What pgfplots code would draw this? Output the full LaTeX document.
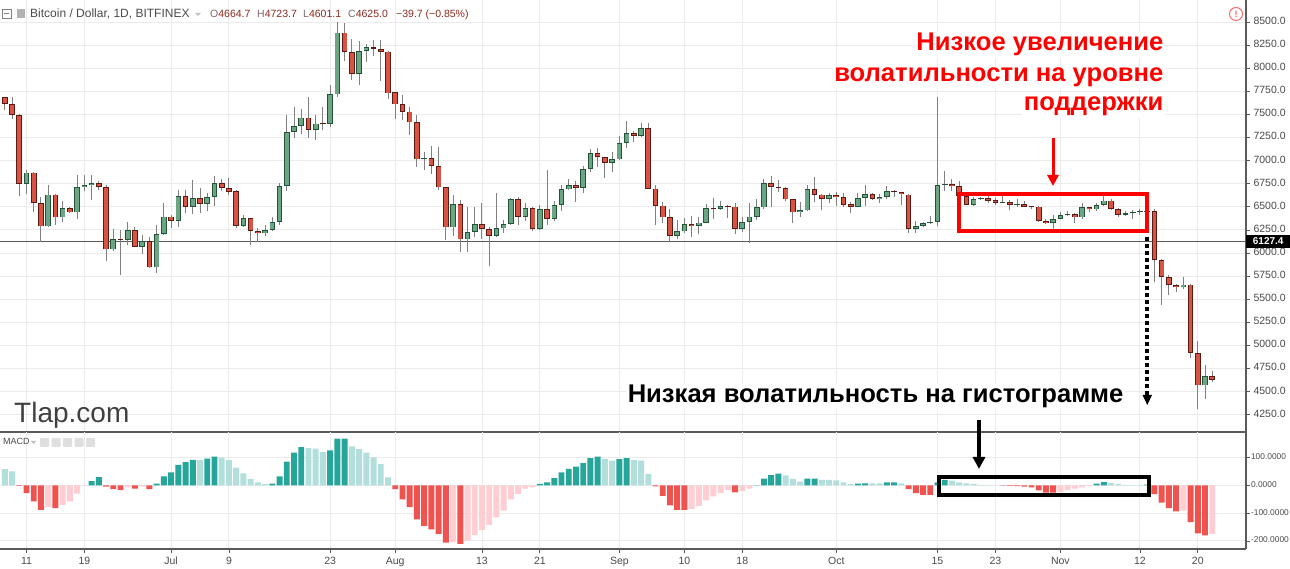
\documentclass[border=0pt]{standalone}
\usepackage{fontspec}
\setmainfont{Liberation Sans}
\usepackage{pgfplots}
\usepackage{pgfplotstable}
\pgfplotsset{compat=1.18}
\usetikzlibrary{arrows.meta}
\definecolor{upfill}{HTML}{6BA583}
\definecolor{upedge}{HTML}{225437}
\definecolor{dnfill}{HTML}{D75442}
\definecolor{dnedge}{HTML}{5B1A13}
\definecolor{wickc}{HTML}{808080}
\definecolor{tealD}{HTML}{26A69A}
\definecolor{tealL}{HTML}{B2DFDB}
\definecolor{redD}{HTML}{EF5350}
\definecolor{redL}{HTML}{FFCDD2}
\definecolor{gridc}{HTML}{EBEBEB}
\definecolor{axisc}{HTML}{5A5A5A}
\definecolor{labc}{HTML}{4A4A4A}
\definecolor{ohlcv}{HTML}{8B2A1E}
\definecolor{ohlcl}{HTML}{7A6A6A}
\definecolor{annred}{HTML}{FF0000}

\pgfplotstableread{
d o h l c
0 6750 6899 6639 6870
3 6289 6740 6285 6632
5 6386 6559 6336 6487
7 6440 6848 6372 6711
8 6711 6841 6668 6733
9 6733 6841 6574 6761
12 6040 6257 6026 6155
14 6145 6336 6083 6249
16 6069 6192 5990 6127
18 5845 6300 5788 6206
19 6206 6545 6200 6394
21 6350 6682 6285 6617
23 6502 6790 6422 6596
25 6531 6646 6458 6603
26 6603 6834 6509 6758
30 6292 6412 6285 6375
33 6213 6303 6181 6246
34 6246 6390 6238 6339
35 6339 6754 6303 6729
36 6729 7494 6671 7313
37 7313 7584 7248 7375
38 7375 7559 7284 7465
40 7331 7494 7227 7400
42 7393 7818 7367 7717
43 7717 8504 7692 8385
46 7934 8294 7818 8186
47 8186 8266 8064 8229
55 7014 7093 6899 7025
59 6278 6624 6184 6531
61 6148 6502 6015 6231
62 6231 6502 6170 6314
65 6184 6646 6177 6267
66 6267 6357 6220 6314
67 6314 6592 6303 6585
69 6394 6545 6350 6484
71 6257 6520 6249 6477
73 6365 6567 6350 6523
74 6523 6733 6451 6689
75 6689 6798 6682 6733
77 6704 6942 6653 6906
78 6906 7122 6881 7079
81 6978 7097 6881 7014
82 7014 7266 7007 7194
83 7194 7432 7133 7295
85 7266 7411 7252 7349
90 6181 6357 6148 6235
91 6235 6375 6220 6314
93 6293 6394 6206 6329
94 6329 6531 6321 6484
96 6476 6567 6466 6505
99 6257 6386 6231 6336
100 6336 6545 6112 6394
101 6394 6588 6357 6494
102 6494 6798 6480 6761
107 6440 6552 6393 6462
108 6462 6736 6458 6689
111 6588 6653 6538 6624
115 6498 6646 6495 6596
116 6596 6740 6509 6635
118 6588 6639 6538 6610
119 6610 6729 6581 6671
123 6257 6350 6220 6293
124 6293 6339 6278 6321
125 6321 6401 6311 6336
126 6336 7685 6293 6736
127 6736 6891 6675 6750
131 6520 6603 6509 6581
132 6581 6610 6574 6596
135 6545 6624 6545 6556
137 6523 6588 6502 6534
142 6329 6415 6242 6372
143 6372 6444 6365 6408
144 6408 6451 6401 6423
146 6386 6538 6372 6495
148 6473 6538 6458 6523
149 6523 6624 6509 6567
152 6415 6458 6401 6430
153 6430 6466 6372 6444
154 6444 6473 6408 6446
155 6446 6480 6440 6458
160 5629 5744 5615 5658
163 4568 4785 4424 4664.7
}\upc

\pgfplotstableread{
d o h l c
-3 7685 7692 7548 7613
-2 7613 7685 7447 7497
-1 7497 7504 6617 6750
1 6870 6880 6448 6545
2 6545 6603 6119 6289
4 6632 6640 6307 6386
6 6487 6495 6430 6440
10 6761 6783 6682 6718
11 6718 6733 5910 6040
13 6152 6249 5759 6145
15 6249 6285 6062 6069
17 6127 6177 5838 5845
20 6394 6408 6271 6350
22 6617 6682 6430 6502
24 6596 6704 6430 6531
27 6758 6801 6671 6707
28 6707 6815 6628 6664
29 6671 6686 6267 6292
31 6375 6380 6087 6242
32 6242 6267 6123 6213
39 7465 7688 7241 7331
41 7400 7580 7331 7393
44 8385 8486 8078 8172
45 8172 8316 7872 7934
48 8229 8305 8128 8211
49 8211 8305 7865 8179
50 8179 8185 7667 7728
51 7739 7746 7450 7609
52 7609 7710 7440 7530
53 7530 7580 7277 7414
54 7414 7494 6935 7014
56 7025 7158 6855 6942
57 6942 7151 6682 6711
58 6718 6718 6141 6278
60 6531 6574 6015 6148
63 6314 6545 6148 6257
64 6257 6278 5860 6184
68 6585 6610 6303 6394
70 6484 6502 6242 6257
72 6477 6899 6303 6365
76 6733 6783 6556 6704
79 7079 7133 6927 7036
80 7036 7043 6808 6978
84 7295 7324 7205 7266
86 7349 7404 6689 6697
87 6697 6733 6303 6513
88 6513 6552 6329 6386
89 6386 6480 6123 6181
92 6314 6401 6177 6293
95 6491 6596 6365 6476
97 6509 6523 6375 6498
98 6502 6538 6206 6257
103 6761 6834 6502 6718
104 6718 6790 6664 6704
105 6704 6718 6559 6581
106 6581 6588 6329 6440
109 6689 6819 6552 6632
110 6632 6639 6466 6588
112 6624 6660 6509 6603
113 6603 6646 6502 6523
114 6531 6552 6430 6498
117 6635 6646 6574 6588
120 6671 6678 6603 6660
121 6657 6664 6520 6635
122 6632 6639 6220 6257
128 6750 6797 6675 6725
129 6729 6776 6610 6617
130 6617 6624 6516 6520
133 6596 6617 6538 6563
134 6574 6592 6520 6545
136 6552 6574 6466 6523
138 6531 6559 6495 6502
139 6502 6509 6480 6495
140 6502 6509 6336 6350
141 6350 6365 6314 6329
145 6423 6430 6329 6386
147 6495 6502 6444 6473
150 6567 6581 6466 6480
151 6480 6487 6394 6415
156 6458 6480 5687 5925
157 5925 5939 5441 5744
158 5744 5759 5542 5651
159 5651 5665 5578 5629
161 5658 5665 4861 4922
162 4922 5052 4309 4568
164 4664.7 4723.7 4601.1 4625.0
}\dnc

\pgfplotsset{
  panel/.style={
    scale only axis, width=1246pt,
    xmin=-3.665, xmax=168.67,
    axis x line*=bottom, axis y line*=right,
    axis line style={draw=axisc, line width=1.2pt},
    xtick={0,8,20,28,42,51,63,71,82,91,99,112,126,134,143,154,162},
    grid=major, major grid style={draw=gridc, line width=0.9pt},
    tick align=outside, major tick length=4pt,
    tick style={draw=axisc, line width=0.8pt},
    ytick pos=right, yticklabel pos=right,
    ticklabel style={font=\fontsize{10.5}{12}\selectfont, text=labc},
    typeset ticklabels with strut,
    clip mode=individual,
  },
  wick/.style={draw=none, mark=none, forget plot,
    error bars/.cd, y dir=plus, y explicit, error mark=none,
    error bar style={draw=wickc, line width=1pt, solid}},
  body/.style 2 args={draw=none, mark=none, forget plot,
    error bars/.cd, y dir=plus, y explicit, error mark=none,
    error bar style={draw=#1, line width=#2, solid}},
  hist/.style={ybar, bar width=0.82, bar shift=0pt, draw=none, fill=#1, forget plot},
}

\begin{document}
\begin{tikzpicture}[x=1pt,y=1pt]
\path[use as bounding box, fill=white] (0,0) rectangle (1290,569);

% ---------------- price panel ----------------
\begin{axis}[panel, at={(0pt,137pt)}, anchor=south west, height=432pt,
  ymin=4064, ymax=8738,
  xticklabel={\relax}, xtick style={draw=none},
  ytick={4250,4500,4750,5000,5250,5500,5750,6000,6250,6500,6750,7000,7250,7500,7750,8000,8250,8500},
  yticklabels={4250.0,4500.0,4750.0,5000.0,5250.0,5500.0,5750.0,6000.0,6250.0,6500.0,6750.0,7000.0,7250.0,7500.0,7750.0,8000.0,8250.0,8500.0},
]
\addplot[draw=axisc, line width=1.3pt, forget plot] coordinates {(-3.665,6127.4) (168.67,6127.4)};
% wicks
\addplot[wick] table[x=d, y=l, y error plus expr={\thisrow{h}-\thisrow{l}}] {\upc};
\addplot[wick] table[x=d, y=l, y error plus expr={\thisrow{h}-\thisrow{l}}] {\dnc};
% bodies: edge then fill
\addplot[body={upedge}{5.6pt}] table[x=d, y=o, y error plus expr={max(\thisrow{c}-\thisrow{o},12)}] {\upc};
\addplot[body={upfill}{3.8pt}] table[x=d, y expr={\thisrow{o}+9}, y error plus expr={max(\thisrow{c}-\thisrow{o}-18,0)}] {\upc};
\addplot[body={dnedge}{5.6pt}] table[x=d, y=c, y error plus expr={max(\thisrow{o}-\thisrow{c},12)}] {\dnc};
\addplot[body={dnfill}{3.8pt}] table[x=d, y expr={\thisrow{c}+9}, y error plus expr={max(\thisrow{o}-\thisrow{c}-18,0)}] {\dnc};
\node[fill=black, text=white, font=\bfseries\fontsize{10}{12}\selectfont, anchor=west,
  inner sep=0pt, minimum width=44pt, minimum height=13pt] at (axis cs:168.67,6127.4) {6127.4};
\end{axis}

% ---------------- MACD panel ----------------
\begin{axis}[panel, at={(0pt,20pt)}, anchor=south west, height=117pt,
  ymin=-229, ymax=192,
  xticklabels={11,19,Jul,9,23,Aug,13,21,Sep,10,18,Oct,15,23,Nov,12,20},
  ytick={-200,-100,0,100},
  yticklabels={-200.0000,-100.0000,0.0000,100.0000},
  yticklabel style={font=\fontsize{8.4}{10}\selectfont, xshift=-2.5pt},
]
\addplot[hist=tealD] coordinates {(9,15.6) (10,30) (18,6) (19,32) (20,47) (21,74) (22,84) (23,92) (25,96) (26,103) (34,6) (35,32) (36,85) (37,118) (38,138) (42,126) (43,168) (44,168) (71,5) (72,11) (73,26) (74,47) (75,59) (76,67) (77,80) (78,98) (79,103) (82,94) (83,98) (101,1) (102,24) (103,37) (104,42) (108,24) (109,24) (115,6) (116,7) (119,11) (120,11) (126,11) (127,20) (148,6) (149,12) (155,3)};
\addplot[hist=tealL] coordinates {(-3,58) (-2,50) (24,91) (27,100) (28,91) (29,64) (30,43) (31,23) (32,11) (33,4) (39,134) (40,132) (41,120) (45,140) (46,130) (47,118) (48,101) (49,76) (50,29) (80,95) (81,89) (84,91) (85,89) (86,41) (105,36) (106,23) (107,13) (110,20) (111,20) (112,18) (113,11) (114,4) (117,7) (118,7) (121,7) (128,17) (129,11) (130,7) (131,5) (132,2) (133,1) (150,8) (151,4) (152,1.5) (153,1) (154,0.5)};
\addplot[hist=redD] coordinates {(-1,-2) (0,-28) (1,-58) (2,-88) (4,-82) (11,-5) (12,-14) (13,-17) (15,-12) (17,-14) (51,-14) (52,-50) (53,-78) (54,-122) (55,-146) (56,-158) (57,-175) (58,-206) (60,-211) (87,-4) (88,-38) (89,-72) (90,-88) (91,-88) (98,-25) (122,-14) (123,-28) (124,-34) (125,-34) (135,-1) (136,-2) (137,-3) (138,-5) (139,-7) (140,-18) (141,-26) (142,-26) (156,-32) (157,-62) (158,-82) (159,-94) (161,-132) (162,-173) (163,-180)};
\addplot[hist=redL] coordinates {(3,-78) (5,-70) (6,-58) (7,-30) (8,-1) (14,-7) (16,-5) (59,-204) (61,-199) (62,-178) (63,-160) (64,-142) (65,-115) (66,-91) (67,-50) (68,-31) (69,-12) (70,-7) (92,-85) (93,-74) (94,-54) (95,-40) (96,-28) (97,-17) (99,-20) (100,-12) (143,-24) (144,-17) (145,-12) (146,-7) (147,-2) (160,-91) (164,-175)};
\end{axis}

% ---------------- header ----------------
\draw[draw=gray, line width=0.8pt] (2,551) rectangle (11,560);
\draw[draw=gray, line width=0.8pt] (4,555.5) -- (9,555.5);
\fill[gray!60] (17,551) rectangle (25,560);
\node[anchor=base west, inner sep=0pt, font=\fontsize{12}{14}\selectfont, text=labc] at (30,551) {Bitcoin / Dollar, 1D, BITFINEX};
\fill[gray!50] (195,556) -- (201,556) -- (198,553) -- cycle;
\begin{scope}[every node/.style={anchor=base west, inner sep=0pt, font=\fontsize{10.5}{12}\selectfont}]
\node at (210,551) {\textcolor{ohlcl}{O}\textcolor{ohlcv}{4664.7}};
\node at (257,551) {\textcolor{ohlcl}{H}\textcolor{ohlcv}{4723.7}};
\node at (303,551) {\textcolor{ohlcl}{L}\textcolor{ohlcv}{4601.1}};
\node at (348,551) {\textcolor{ohlcl}{C}\textcolor{ohlcv}{4625.0}};
\node at (396,551) {\textcolor{ohlcv}{−39.7 (−0.85\%)}};
\end{scope}
\draw[draw=red!60, line width=1pt] (1236,555) circle (6.5);
\node[text=red!60, font=\bfseries\fontsize{9}{10}\selectfont, inner sep=0pt] at (1236,555) {!};

% MACD label
\node[anchor=base west, inner sep=0pt, font=\fontsize{9}{10}\selectfont, text=labc] at (3,124) {MACD};
\fill[gray!50] (31,128) -- (36,128) -- (33.5,125) -- cycle;
\foreach \i in {0,1,2,3,4} {\fill[gray!25, rounded corners=1pt] (40+\i*11.5,122) rectangle (49+\i*11.5,131);}

% watermark
\node[anchor=base west, inner sep=0pt, font=\fontsize{28}{30}\selectfont, text=black!75] at (14,146) {Tlap.com};

% annotations
\begin{scope}[every node/.style={anchor=base east, inner sep=1.5pt, fill=white, text=annred, font=\bfseries\fontsize{25.6}{30}\selectfont}]
\node at (1165,518) {Низкое увеличение};
\node at (1165,487.3) {волатильности на уровне};
\node at (1165,458) {поддержки};
\end{scope}
\draw[annred, line width=3pt, -{Triangle[width=11pt,length=11pt]}] (1053,431) -- (1053,383);
\draw[annred, line width=4pt] (959,375) rectangle (1146.5,337.7);
\draw[black, line width=4pt, dash pattern=on 4pt off 3pt] (1147.3,332) -- (1147.3,172);
\fill[black] (1142.5,174) -- (1152,174) -- (1147.3,164) -- cycle;

\node[anchor=base east, inner sep=1.5pt, fill=white, text=black, font=\bfseries\fontsize{25.6}{30}\selectfont] at (1125,166) {Низкая волатильность на гистограмме};
\draw[black, line width=3.5pt, -{Triangle[width=12pt,length=12pt]}] (979,149) -- (979,100);
\draw[black, line width=4pt] (938.7,92.3) rectangle (1148.7,74);
\end{tikzpicture}
\end{document}
